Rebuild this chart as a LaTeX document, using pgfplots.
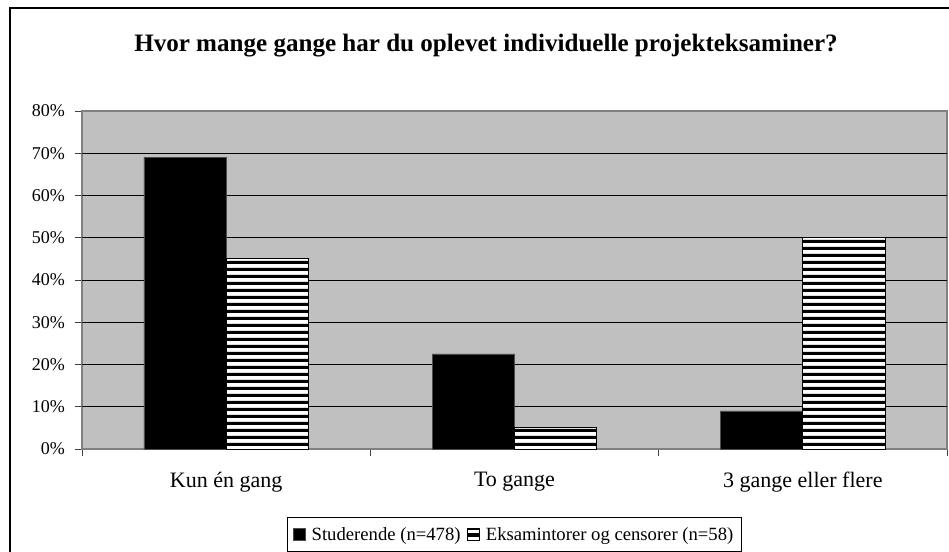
\documentclass[border=0pt]{standalone}
\usepackage{fontspec}
\setmainfont{Liberation Serif}
\usepackage{pgfplots}
\pgfplotsset{compat=1.18}
\usetikzlibrary{patterns}

\definecolor{plotgray}{HTML}{C0C0C0}
\definecolor{edgegray}{HTML}{808080}

% horizontal stripes, about 7px period; wide tile to avoid seams
\pgfdeclarepatternformonly{hstripes}{\pgfqpoint{0pt}{0pt}}{\pgfqpoint{300pt}{5.3pt}}{\pgfqpoint{300pt}{5.3pt}}{%
  \pgfpathrectangle{\pgfqpoint{-1pt}{0pt}}{\pgfqpoint{302pt}{2.6pt}}\pgfusepath{fill}}
\tikzset{stripes/.style={fill=white, postaction={pattern=hstripes, pattern color=black}}}

\begin{document}
\begin{tikzpicture}
\useasboundingbox (0,0) rectangle (711.75pt,-413.25pt);
\draw[line width=1.5pt] (7.5pt,-6pt) rectangle (800pt,-500pt);
\node[anchor=base, inner sep=0pt, font=\fontsize{18.8}{20}\selectfont\bfseries] at (364.5pt,-38.8pt)
  {Hvor mange gange har du oplevet individuelle projekteksaminer?};
\begin{axis}[
  at={(61.5pt,-336.75pt)}, anchor=south west,
  scale only axis, width=648.75pt, height=253.5pt,
  xmin=-0.5, xmax=2.5, ymin=0, ymax=80,
  axis background/.style={fill=plotgray},
  axis line style={draw=edgegray, line width=1pt},
  tick align=outside, major tick length=5.25pt,
  tick style={draw=black!75, line width=0.75pt},
  xtick pos=lower, ytick pos=left,
  /pgf/number format/assume math mode=true,
  ytick={0,10,...,80},
  yticklabel={\pgfmathprintnumber{\tick}\%},
  yticklabel style={font=\fontsize{13.5}{15}\selectfont, xshift=-4pt},
  extra y ticks={10,20,...,70}, extra y tick labels={},
  extra y tick style={grid=major, major tick length=0pt},
  major grid style={draw=black, line width=0.6pt},
  xtick={-0.5,0.5,1.5,2.5}, xticklabels={},
  extra x ticks={0,1,2},
  extra x tick labels={Kun én gang, To gange, 3 gange eller flere},
  extra x tick style={major tick length=0pt, grid=none,
    xticklabel style={font=\fontsize{16.5}{18}\selectfont, yshift=-14pt}},
  ybar, bar width=0.285,
  legend style={at={(0.5,-0.202)}, anchor=north, legend columns=2,
    draw=black, line width=0.75pt, font=\fontsize{14}{16}\selectfont,
    inner xsep=4pt, inner ysep=5pt,
    /tikz/every odd column/.append style={column sep=2.5pt},
    /tikz/every even column/.append style={column sep=3pt}},
  legend cell align=left,
  legend image code/.code={\draw[#1, line width=0.5pt] (0pt,-4.5pt) rectangle (9pt,4.5pt);},
]
\addplot[fill=black, draw=black!70, line width=0.5pt, bar shift=-0.1425]
  coordinates {(0,69) (1,22.5) (2,9)};
\addlegendentry{Studerende (n=478)}
\addplot[stripes, draw=black, line width=0.75pt, bar shift=0.1425]
  coordinates {(0,45) (1,5) (2,50)};
\addlegendentry{Eksamintorer og censorer (n=58)}
\end{axis}
\end{tikzpicture}
\end{document}
